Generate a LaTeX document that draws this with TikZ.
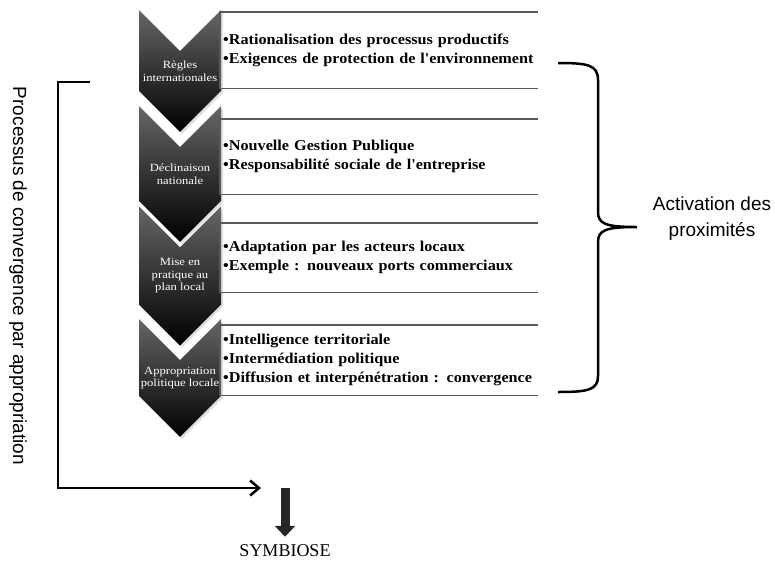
\documentclass[tikz,border=0pt]{standalone}
\usepackage{fontspec}
\setmainfont{Liberation Serif}
\setsansfont{Liberation Sans}
\newfontfamily\boxfont[FakeStretch=1.08]{Liberation Serif}
\newfontfamily\chevfont[FakeStretch=1.15]{Liberation Serif}
\usetikzlibrary{shapes.symbols,arrows.meta,shadows}

\begin{document}
\begin{tikzpicture}[x=1pt, y=-1pt,
                every node/.style={inner sep=0pt},
                chevron/.style={signal, signal from=north, signal to=south, signal pointer angle=90,
                  minimum width=82pt, minimum height=114pt, top color=black!60, middle color=black!93, bottom color=black,
                  drop shadow={opacity=0.25, shadow xshift=2pt, shadow yshift=-2pt},
                  text=white, align=center, font=\chevfont\fontsize{11}{12.5}\selectfont},
                textbox/.style={anchor=north west, text width=330pt, inner xsep=3pt,
                  align=left, font=\boxfont\bfseries\fontsize{15}{19}\selectfont},
                boxline/.style={draw=black!65, line width=1.4pt},
                bigtext/.style={font=\sffamily\fontsize{19}{26}\selectfont, align=center},
                thickline/.style={draw=black, line width=2.5pt}]

                \useasboundingbox (0,0) rectangle (775,563);

                % Chevrons
                \node[chevron] (c1) at (180,71) {R\`egles\\internationales};
                \node[chevron] (c2) at (180,174) {D\'eclinaison\\nationale};
                \node[chevron] (c3) at (180,276) {Mise en\\pratique au\\plan local};
                \node[chevron] (c4) at (180,378) {Appropriation\\politique locale};

                % Boxes
                \coordinate (rend) at (538,0);
                \node[textbox, minimum height=76pt] (b1) at (220,12)
                  {\textbullet Rationalisation des processus productifs\\\textbullet Exigences de protection de l'environnement};
                \node[textbox, minimum height=75pt] (b2) at (220,119)
                  {\textbullet Nouvelle Gestion Publique\\\textbullet Responsabilit\'e sociale de l'entreprise};
                \node[textbox, minimum height=69pt] (b3) at (220,223)
                  {\textbullet Adaptation par les acteurs locaux\\\textbullet Exemple : nouveaux ports commerciaux};
                \node[textbox, minimum height=70pt] (b4) at (220,325)
                  {\textbullet Intelligence territoriale\\\textbullet Interm\'ediation politique\\\textbullet Diffusion et interp\'en\'etration : convergence};

                \draw[boxline] (b1.north west -| rend) -- (b1.north west) -- (b1.south west) -- (b1.south west -| rend);
                \draw[boxline] (b2.north west -| rend) -- (b2.north west) -- (b2.south west) -- (b2.south west -| rend);
                \draw[boxline] (b3.north west -| rend) -- (b3.north west) -- (b3.south west) -- (b3.south west -| rend);
                \draw[boxline] (b4.north west -| rend) -- (b4.north west) -- (b4.south west) -- (b4.south west -| rend);

                % Left bracket
                \node[bigtext, rotate=-90] (proc) at (18,276) {Processus de convergence par appropriation};
                \coordinate (brtop) at (90,82);
                \coordinate (brend) at (261,488);
                \draw[thickline, -{Straight Barb[length=9pt,width=15pt,line width=2.5pt]}] (brtop) -- ++(-32,0) |- (brend);

                % Result
                \coordinate (symtop) at (285,488);
                \node[font=\fontsize{18}{20}\selectfont] (symb) at (285,551) {SYMBIOSE};
                \draw[line width=9pt, black!85, -{Triangle[length=11pt,width=20pt]}, shorten >=8pt] (symtop) -- (symb);

                % Brace
                \draw[thickline] (558,63) .. controls (588,63) and (598,65) .. (598,80) -- (598,212)
                  .. controls (598,224) and (606,227) .. (637,227)
                  .. controls (606,227) and (598,230) .. (598,242) -- (598,376)
                  .. controls (598,390) and (588,392) .. (558,392);
                \node[bigtext] (act) at (712,219) {Activation des\\proximit\'es};
            \end{tikzpicture}
\end{document}
